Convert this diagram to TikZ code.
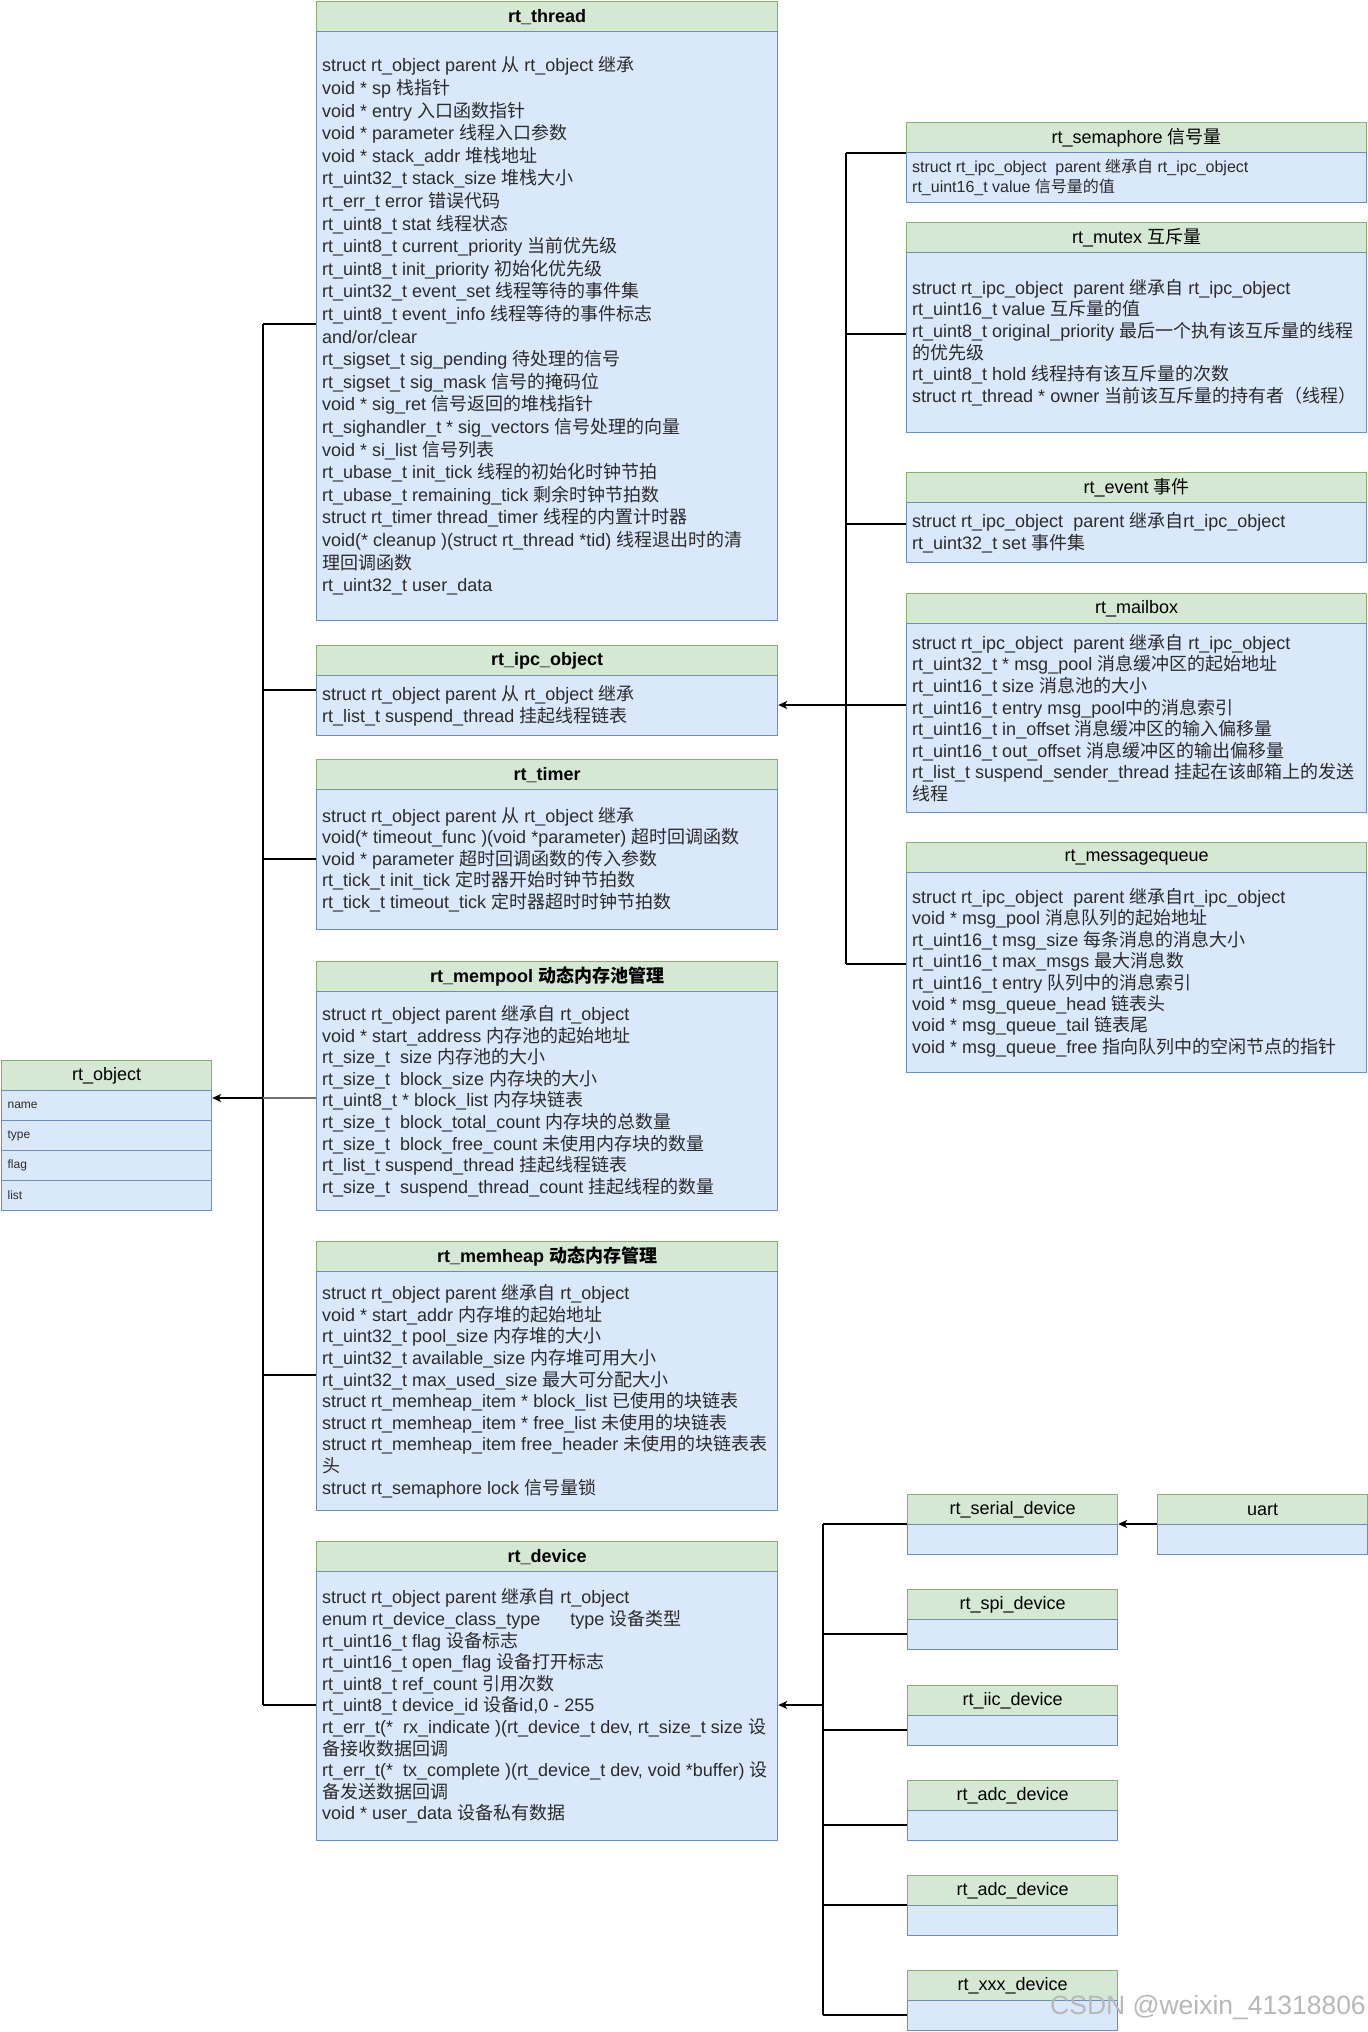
\documentclass[tikz,border=0pt]{standalone}
\usepackage{fontspec}
\setmainfont{Liberation Sans}
\newfontfamily\cjkfam{Noto Sans CJK SC}
\usetikzlibrary{arrows.meta}
% automatic switch to the CJK font for CJK characters
\newXeTeXintercharclass\cjkclass
\newcount\cjkcnt
\cjkcnt="3000
\loop\ifnum\cjkcnt<"3040 \XeTeXcharclass\cjkcnt=\cjkclass \advance\cjkcnt by 1 \repeat
\cjkcnt="4E00
\loop\ifnum\cjkcnt<"A000 \XeTeXcharclass\cjkcnt=\cjkclass \advance\cjkcnt by 1 \repeat
\cjkcnt="FF00
\loop\ifnum\cjkcnt<"FFF0 \XeTeXcharclass\cjkcnt=\cjkclass \advance\cjkcnt by 1 \repeat
\XeTeXinterchartoks 0 \cjkclass = {\cjkfam}
\XeTeXinterchartoks 4095 \cjkclass = {\cjkfam}
\XeTeXinterchartoks \cjkclass 0 = {\rmfamily}
\XeTeXinterchartoks \cjkclass 4095 = {\rmfamily}
\XeTeXinterchartokenstate=1

\definecolor{hfill}{HTML}{D5E8D4}
\definecolor{hline}{HTML}{82B366}
\definecolor{bfill}{HTML}{DAE8FC}
\definecolor{bline}{HTML}{6C8EBF}
\definecolor{tcol}{HTML}{2B2B2B}

\tikzset{
 hdr/.style={draw=hline, fill=hfill, line width=1.2pt, minimum height=30pt, inner sep=0pt, font=\fontsize{18}{21.6}\selectfont, text=black},
 bdy/.style={draw=bline, fill=bfill, line width=1.2pt, inner sep=0pt},
 txt/.style={align=left, inner sep=0pt, text=tcol},
 fa/.style={font=\fontsize{18}{21.6}\selectfont},
 fw/.style={font=\fontsize{18}{22.6}\selectfont},
 ft/.style={font=\fontsize{18}{21.4}\selectfont},
 fs/.style={font=\fontsize{16}{20}\selectfont},
 conn/.style={draw=black, line width=1.2pt},
 arr/.style={draw=black, line width=1.5pt, -{Stealth[length=9pt,width=8pt,inset=2.5pt]}},
 row/.style={draw=bline, fill=bfill, line width=1.2pt, minimum width=210pt, minimum height=30pt, text width=198pt, align=left, inner xsep=6pt, inner ysep=0pt, font=\fontsize{12}{14}\selectfont, text=tcol},
 wm/.style={font=\fontsize{26.5}{30}\selectfont, text=black!28},
}

\newcommand\umlclass[8]{%
 \node[hdr, minimum width=#4, anchor=north west] (#1-h) at (#2,#3) {#6};
 \node[bdy, minimum width=#4, minimum height=#5, anchor=north west] (#1) at (#2,#3+30) {};
 \node[txt, #7, anchor=west] (#1-t) at ([xshift=6pt]#1.west) {#8};
}

\begin{document}
\begin{tikzpicture}[x=1pt,y=-1pt]
\useasboundingbox (0,0) rectangle (1368,2032);
\fill[white] (0,0) rectangle (1368,2032);

% ---------- left column ----------
\umlclass{thread}{316}{1}{461}{589}{\bfseries rt\_thread}{fw}{%
struct rt\_object parent 从 rt\_object 继承\\
void * sp 栈指针\\
void * entry 入口函数指针\\
void * parameter 线程入口参数\\
void * stack\_addr 堆栈地址\\
rt\_uint32\_t stack\_size 堆栈大小\\
rt\_err\_t error 错误代码\\
rt\_uint8\_t stat 线程状态\\
rt\_uint8\_t current\_priority 当前优先级\\
rt\_uint8\_t init\_priority 初始化优先级\\
rt\_uint32\_t event\_set 线程等待的事件集\\
rt\_uint8\_t event\_info 线程等待的事件标志\\
and/or/clear\\
rt\_sigset\_t sig\_pending 待处理的信号\\
rt\_sigset\_t sig\_mask 信号的掩码位\\
void * sig\_ret 信号返回的堆栈指针\\
rt\_sighandler\_t * sig\_vectors 信号处理的向量\\
void * si\_list 信号列表\\
rt\_ubase\_t init\_tick 线程的初始化时钟节拍\\
rt\_ubase\_t remaining\_tick 剩余时钟节拍数\\
struct rt\_timer thread\_timer 线程的内置计时器\\
void(* cleanup )(struct rt\_thread *tid) 线程退出时的清\\
理回调函数\\
rt\_uint32\_t user\_data}

\umlclass{ipc}{316}{645}{461}{60}{\bfseries rt\_ipc\_object}{fw}{%
struct rt\_object parent 从 rt\_object 继承\\
rt\_list\_t suspend\_thread 挂起线程链表}

\umlclass{timer}{316}{759}{461}{140}{\bfseries rt\_timer}{ft}{%
struct rt\_object parent 从 rt\_object 继承\\
void(* timeout\_func )(void *parameter) 超时回调函数\\
void * parameter 超时回调函数的传入参数\\
rt\_tick\_t init\_tick 定时器开始时钟节拍数\\
rt\_tick\_t timeout\_tick 定时器超时时钟节拍数}

\umlclass{mempool}{316}{961}{461}{219}{\bfseries rt\_mempool 动态内存池管理}{fa}{%
struct rt\_object parent 继承自 rt\_object\\
void * start\_address 内存池的起始地址\\
rt\_size\_t~ size 内存池的大小\\
rt\_size\_t~ block\_size 内存块的大小\\
rt\_uint8\_t * block\_list 内存块链表\\
rt\_size\_t~ block\_total\_count 内存块的总数量\\
rt\_size\_t~ block\_free\_count 未使用内存块的数量\\
rt\_list\_t suspend\_thread 挂起线程链表\\
rt\_size\_t~ suspend\_thread\_count 挂起线程的数量}

\umlclass{memheap}{316}{1241}{461}{239}{\bfseries rt\_memheap 动态内存管理}{fa}{%
struct rt\_object parent 继承自 rt\_object\\
void * start\_addr 内存堆的起始地址\\
rt\_uint32\_t pool\_size 内存堆的大小\\
rt\_uint32\_t available\_size 内存堆可用大小\\
rt\_uint32\_t max\_used\_size 最大可分配大小\\
struct rt\_memheap\_item * block\_list 已使用的块链表\\
struct rt\_memheap\_item * free\_list 未使用的块链表\\
struct rt\_memheap\_item free\_header 未使用的块链表表\\
头\\
struct rt\_semaphore lock 信号量锁}

\umlclass{device}{316}{1541}{461}{269}{\bfseries rt\_device}{fa}{%
struct rt\_object parent 继承自 rt\_object\\
enum rt\_device\_class\_type~ ~ ~ type 设备类型\\
rt\_uint16\_t flag 设备标志\\
rt\_uint16\_t open\_flag 设备打开标志\\
rt\_uint8\_t ref\_count 引用次数\\
rt\_uint8\_t device\_id 设备id,0 - 255\\
rt\_err\_t(*~ rx\_indicate )(rt\_device\_t dev, rt\_size\_t size 设\\
备接收数据回调\\
rt\_err\_t(*~ tx\_complete )(rt\_device\_t dev, void *buffer) 设\\
备发送数据回调\\
void * user\_data 设备私有数据}

% ---------- rt_object ----------
\node[hdr, minimum width=210pt, anchor=north west] (obj-h) at (1,1060) {rt\_object};
\node[row, anchor=north west] (objname) at (1,1090) {name};
\node[row, anchor=north west] (objtype) at (1,1120) {type};
\node[row, anchor=north west] (objflag) at (1,1150) {flag};
\node[row, anchor=north west] (objlist) at (1,1180) {list};

% ---------- right column ----------
\umlclass{sem}{906}{122}{460}{50}{rt\_semaphore 信号量}{fs}{%
struct rt\_ipc\_object~ parent 继承自 rt\_ipc\_object\\
rt\_uint16\_t value 信号量的值}

\umlclass{mutex}{906}{222}{460}{180}{rt\_mutex 互斥量}{fa}{%
struct rt\_ipc\_object~ parent 继承自 rt\_ipc\_object\\
rt\_uint16\_t value 互斥量的值\\
rt\_uint8\_t original\_priority 最后一个执有该互斥量的线程\\
的优先级\\
rt\_uint8\_t hold 线程持有该互斥量的次数\\
struct rt\_thread * owner 当前该互斥量的持有者（线程）}

\umlclass{event}{906}{472}{460}{60}{rt\_event 事件}{fa}{%
struct rt\_ipc\_object~ parent 继承自rt\_ipc\_object\\
rt\_uint32\_t set 事件集}

\umlclass{mail}{906}{593}{460}{189}{rt\_mailbox}{fa}{%
struct rt\_ipc\_object~ parent 继承自 rt\_ipc\_object\\
rt\_uint32\_t * msg\_pool 消息缓冲区的起始地址\\
rt\_uint16\_t size 消息池的大小\\
rt\_uint16\_t entry msg\_pool中的消息索引\\
rt\_uint16\_t in\_offset 消息缓冲区的输入偏移量\\
rt\_uint16\_t out\_offset 消息缓冲区的输出偏移量\\
rt\_list\_t suspend\_sender\_thread 挂起在该邮箱上的发送\\
线程}

\umlclass{mq}{906}{842}{460}{200}{rt\_messagequeue}{ft}{%
struct rt\_ipc\_object~ parent 继承自rt\_ipc\_object\\
void * msg\_pool 消息队列的起始地址\\
rt\_uint16\_t msg\_size 每条消息的消息大小\\
rt\_uint16\_t max\_msgs 最大消息数\\
rt\_uint16\_t entry 队列中的消息索引\\
void * msg\_queue\_head 链表头\\
void * msg\_queue\_tail 链表尾\\
void * msg\_queue\_free 指向队列中的空闲节点的指针}

% ---------- devices ----------
\umlclass{serial}{907}{1494}{210}{30}{rt\_serial\_device}{fa}{}
\umlclass{uart}{1157}{1494}{210}{30}{uart}{fa}{}
\umlclass{spi}{907}{1589}{210}{30}{rt\_spi\_device}{fa}{}
\umlclass{iic}{907}{1685}{210}{30}{rt\_iic\_device}{fa}{}
\umlclass{adcA}{907}{1780}{210}{30}{rt\_adc\_device}{fa}{}
\umlclass{adcB}{907}{1875}{210}{30}{rt\_adc\_device}{fa}{}
\umlclass{xxx}{907}{1970}{210}{30}{rt\_xxx\_device}{fa}{}

% ---------- left trunk ----------
\coordinate (jThread) at (263,324);
\coordinate (jIpc) at (263,690);
\coordinate (jTimer) at (263,859);
\coordinate (jMempool) at (263,1098);
\coordinate (jMemheap) at (263,1375);
\coordinate (jDevice) at (263,1705);
\draw[conn] (jThread) -- (jDevice);
\draw[conn] (jThread) -- (jThread -| thread.west);
\draw[conn] (jIpc) -- (jIpc -| ipc.west);
\draw[conn] (jTimer) -- (jTimer -| timer.west);
\draw[conn, draw=black!55] (jMempool) -- (jMempool -| mempool.west);
\draw[conn] (jMemheap) -- (jMemheap -| memheap.west);
\draw[conn] (jDevice) -- (jDevice -| device.west);
\draw[arr] (jMempool) -- (jMempool -| objname.east);

% ---------- ipc trunk ----------
\coordinate (jSem) at (846,153);
\coordinate (jMutex) at (846,334);
\coordinate (jEvent) at (846,524);
\coordinate (jMail) at (846,705);
\coordinate (jMq) at (846,964);
\draw[conn] (jSem) -- (jMq);
\draw[conn] (jSem) -- (jSem -| sem.west);
\draw[conn] (jMutex) -- (jMutex -| mutex.west);
\draw[conn] (jEvent) -- (jEvent -| event.west);
\draw[conn] (jMail) -- (jMail -| mail.west);
\draw[conn] (jMq) -- (jMq -| mq.west);
\draw[arr] (jMail) -- (jMail -| ipc.east);

% ---------- device trunk ----------
\coordinate (jSerial) at (823,1524);
\coordinate (jSpi) at (823,1634);
\coordinate (jIic) at (823,1730);
\coordinate (jAdcA) at (823,1825);
\coordinate (jAdcB) at (823,1905);
\coordinate (jXxx) at (823,2015);
\coordinate (jDev) at (823,1705);
\draw[conn] (jSerial) -- (jXxx);
\draw[conn] (jSerial) -- (jSerial -| serial.west);
\draw[conn] (jSpi) -- (jSpi -| spi.west);
\draw[conn] (jIic) -- (jIic -| iic.west);
\draw[conn] (jAdcA) -- (jAdcA -| adcA.west);
\draw[conn] (jAdcB) -- (jAdcB -| adcB.west);
\draw[conn] (jXxx) -- (jXxx -| xxx.west);
\draw[arr] (jDev) -- (jDev -| device.east);
\draw[arr] (uart.north west) -- (uart.north west -| serial.east);

% ---------- watermark ----------
\node[wm, anchor=center] (wmark) at (1208,2008) {CSDN @weixin\_41318806};
\end{tikzpicture}
\end{document}
